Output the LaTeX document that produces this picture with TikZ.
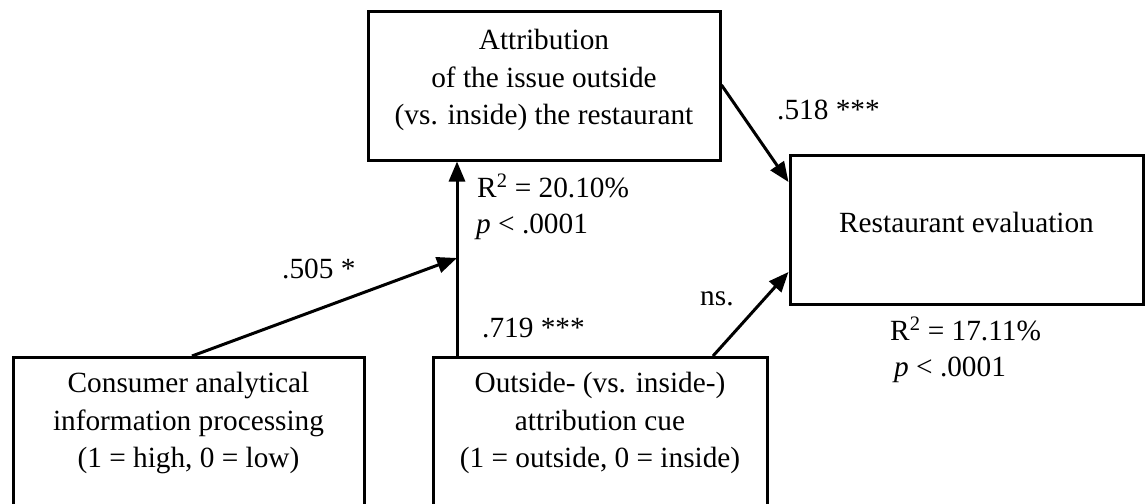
\documentclass[tikz,border=0pt]{standalone}
\usepackage{fontspec}
\setmainfont{Liberation Serif}
\usetikzlibrary{arrows.meta}
\begin{document}
\begin{tikzpicture}[x=1pt,y=-1pt,
  every node/.style={font=\fontsize{29.3}{37.5}\selectfont},
  boxnode/.style={draw, line width=3pt, rectangle, inner sep=0pt},
  txt/.style={align=center, inner sep=0pt},
  lbl/.style={inner sep=0pt, anchor=base west},
  conn/.style={line width=3pt, -{Triangle[length=20pt,width=16pt]}}]
\useasboundingbox (0,0) rectangle (1147,503);
\clip (0,0) rectangle (1147,503);
% boxes
\node[boxnode, minimum width=352pt, minimum height=148pt] (attr) at (544,86) {};
\node[txt] (attrt) at (544,80) {Attribution\\of the issue outside\\(vs. inside) the restaurant};
\node[boxnode, minimum width=353pt, minimum height=149pt] (eval) at (966.5,229.5) {};
\node[txt] (evalt) at (966.5,222) {Restaurant evaluation};
\node[boxnode, minimum width=351pt, minimum height=300pt, anchor=north] (cons) at (188.5,356) {};
\node[txt] (const) at (188.5,423) {Consumer analytical\\information processing\\(1 = high, 0 = low)};
\node[boxnode, minimum width=334pt, minimum height=300pt, anchor=north] (cue) at (600,356) {};
\node[txt] (cuet) at (600,423) {Outside- (vs. inside-)\\attribution cue\\(1 = outside, 0 = inside)};
% connector points
\coordinate (mid) at (457,258);
\draw[conn] (cue.north -| mid) -- (attr.south -| mid);
\draw[conn] ([xshift=3.5pt]cons.north) -- (mid);
\draw[conn] ([yshift=1pt]attr.east) -- ([yshift=47.5pt]eval.west);
\draw[conn] ([xshift=113pt]cue.north) -- ([yshift=-42.5pt]eval.west);
% labels
\node[lbl] (l505) at (282,278) {.505 *};
\node[lbl] (l719) at (482,337) {.719 ***};
\node[lbl] (lr1) at (477,197) {R\textsuperscript{2} = 20.10\%};
\node[lbl] (lp1) at (476,233) {\textit{p} < .0001};
\node[lbl] (lns) at (700,305) {ns.};
\node[lbl] (l518) at (777,119) {.518 ***};
\node[lbl] (lr2) at (890,340) {R\textsuperscript{2} = 17.11\%};
\node[lbl] (lp2) at (894,376) {\textit{p} < .0001};
\end{tikzpicture}
\end{document}
